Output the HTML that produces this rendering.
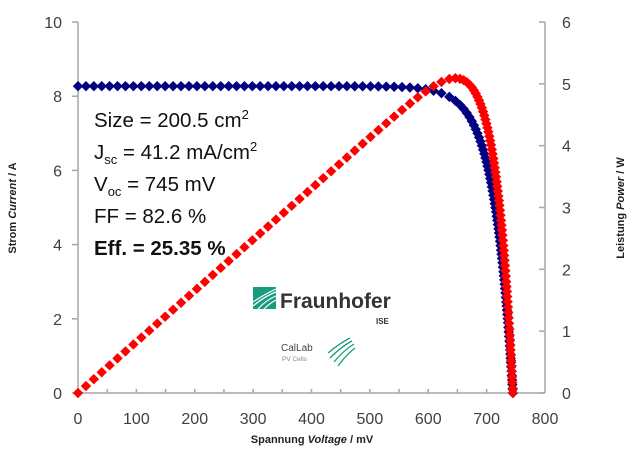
<!DOCTYPE html>
<html><head><meta charset="utf-8"><style>
body{margin:0;background:#fff;}
svg{display:block;font-family:"Liberation Sans",Arial,sans-serif;}
</style></head><body>
<svg id="s" width="640" height="459" xmlns="http://www.w3.org/2000/svg">
<g stroke="#a6a6a6" stroke-width="1.5" fill="none">
<line x1="78" y1="22" x2="78" y2="393"/>
<line x1="545" y1="22" x2="545" y2="393"/>
<line x1="78" y1="393" x2="545" y2="393"/>
<g id="ticks"></g>
</g>
<g font-size="16" fill="#404040" id="labels"></g>
<text font-size="11" font-weight="bold" fill="#222" transform="translate(16,208) rotate(-90)" text-anchor="middle">Strom <tspan font-style="italic">Current</tspan> / A</text>
<text font-size="11" font-weight="bold" fill="#222" transform="translate(624,208) rotate(-90)" text-anchor="middle">Leistung <tspan font-style="italic">Power</tspan> / W</text>
<text x="312" y="443" font-size="11" font-weight="bold" fill="#222" text-anchor="middle">Spannung <tspan font-style="italic">Voltage</tspan> / mV</text>
<g id="data"></g>
<g font-size="20.5" fill="#111">
<text x="94" y="127">Size = 200.5 cm<tspan font-size="13" dy="-8">2</tspan></text>
<text x="94" y="159">J<tspan font-size="13" dy="5">sc</tspan><tspan dy="-5"> = 41.2 mA/cm</tspan><tspan font-size="13" dy="-8">2</tspan></text>
<text x="94" y="191">V<tspan font-size="13" dy="5">oc</tspan><tspan dy="-5"> = 745 mV</tspan></text>
<text x="94" y="223">FF = 82.6 %</text>
<text x="94" y="255" font-weight="bold">Eff. = 25.35 %</text>
</g>
<g>
<rect x="253" y="287" width="23" height="22" fill="#179c7d"/>
<g stroke="#fff" stroke-width="1.2" fill="none">
<path d="M253 306 Q265 296 276 292"/><path d="M253 302 Q265 294 276 289"/><path d="M258 309 Q266 300 276 296"/><path d="M264 309 Q270 303 276 300"/>
</g>
<text x="280" y="308" font-size="21" font-weight="bold" fill="#333">Fraunhofer</text>
<text x="376" y="324" font-size="8" font-weight="bold" fill="#333">ISE</text>
<text x="281" y="351" font-size="10" fill="#444">CalLab</text>
<text x="282" y="361" font-size="6.5" fill="#888">PV Cells</text>
<g stroke="#179c7d" stroke-width="1.3" fill="none">
<path d="M328 353 Q340 343 350 338"/><path d="M330 358 Q342 346 352 341"/><path d="M334 362 Q344 350 354 344"/><path d="M338 366 Q347 354 355 348"/>
</g>
</g>
</svg>
<script>
var NS="http://www.w3.org/2000/svg";
function el(p,t,a,txt){var e=document.createElementNS(NS,t);for(var k in a)e.setAttribute(k,a[k]);if(txt!=null)e.textContent=txt;p.appendChild(e);return e;}
var X=v=>78+v/800*467, YL=i=>393-i/10*371, YR=p=>393-p/6*371;
var tk=document.getElementById('ticks'),lb=document.getElementById('labels');
for(var v=0;v<=800;v+=50){if(v>0&&v<800)el(tk,'line',{x1:X(v),y1:393,x2:X(v),y2:389});}
for(var v=0;v<=800;v+=100)el(lb,'text',{x:X(v),y:424,'text-anchor':'middle'},v);
for(var i=0;i<=10;i+=2){el(tk,'line',{x1:72,y1:YL(i),x2:78,y2:YL(i)});el(lb,'text',{x:62,y:YL(i)+6,'text-anchor':'end'},i);}
for(var p=0;p<=6;p++){el(tk,'line',{x1:539,y1:YR(p),x2:545,y2:YR(p)});el(lb,'text',{x:562,y:YR(p)+6},p);}
var Isc=8.27,Voc=745,a=32.4;
function I(v){return Math.max(0,Isc*(1-Math.exp((v-Voc)/a))/(1-Math.exp(-Voc/a)));}
var vv=[],lv=-100,ly=-100;
for(var v=0;v<=Voc+0.01;v+=0.1){var y=YL(I(v));if(v-lv>=13.5||Math.abs(y-ly)>=4||v+0.1>Voc+0.01){vv.push(v);lv=v;ly=y;}}
var d=document.getElementById('data');
function dia(c,x,y){var r=5.2;el(d,'path',{d:'M'+x+' '+(y-r)+'L'+(x+r)+' '+y+'L'+x+' '+(y+r)+'L'+(x-r)+' '+y+'Z',fill:c});}
vv.forEach(v=>dia('#000080',X(v),YL(I(v))));
vv.forEach(v=>dia('#ff0000',X(v),YR(I(v)*v/1000)));
</script>
</body></html>
